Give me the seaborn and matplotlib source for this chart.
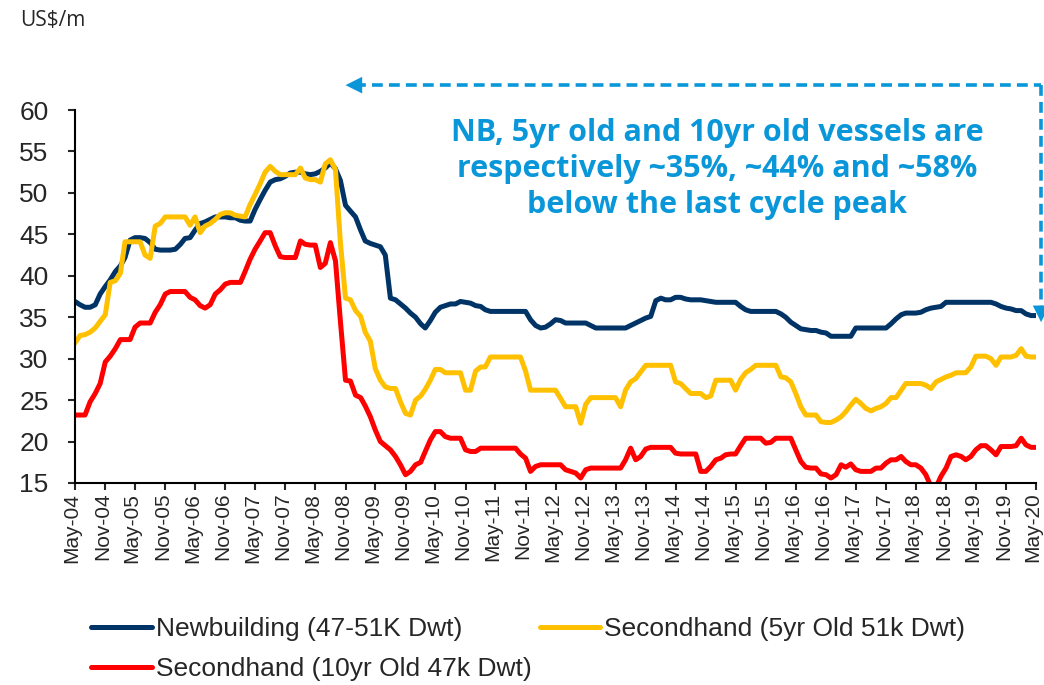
import numpy as np
import pandas as pd
import seaborn as sns
import matplotlib.pyplot as plt
import matplotlib.dates as mdates
from matplotlib.transforms import ScaledTranslation

# Monthly vessel prices (US$m), May-04 to May-20
dates = pd.date_range('2004-05-01', periods=193, freq='MS')

newbuilding = [
    36.9, 36.5, 36.2, 36.2, 36.5, 37.8, 38.7, 39.5, 40.5, 41.2, 42.2, 44.3,
    44.6, 44.6, 44.5, 44.0, 43.2, 43.1, 43.1, 43.1, 43.2, 43.8, 44.5, 44.6,
    45.5, 46.3, 46.5, 46.8, 47.1, 47.1, 47.1, 47.0, 47.0, 46.7, 46.6, 46.6,
    48.0, 49.2, 50.3, 51.3, 51.6, 51.7, 52.0, 52.4, 52.5, 52.5, 52.3, 52.2,
    52.3, 52.6, 53.0, 53.6, 52.9, 51.5, 48.5, 47.8, 47.1, 45.5, 44.2, 43.9,
    43.7, 43.5, 42.5, 37.3, 37.1, 36.6, 36.1, 35.5, 35.0, 34.2, 33.7, 34.6,
    35.6, 36.2, 36.4, 36.6, 36.6, 36.9, 36.8, 36.7, 36.4, 36.3, 35.9, 35.7,
    35.7, 35.7, 35.7, 35.7, 35.7, 35.7, 35.7, 34.7, 34.0, 33.7, 33.8, 34.2,
    34.7, 34.6, 34.3, 34.3, 34.3, 34.3, 34.3, 34.0, 33.7, 33.7, 33.7, 33.7,
    33.7, 33.7, 33.7, 34.0, 34.3, 34.6, 34.9, 35.1, 37.0, 37.3, 37.1, 37.1,
    37.4, 37.4, 37.2, 37.1, 37.1, 37.1, 37.0, 36.9, 36.8, 36.8, 36.8, 36.8,
    36.8, 36.3, 35.9, 35.7, 35.7, 35.7, 35.7, 35.7, 35.7, 35.4, 35.0, 34.4,
    34.0, 33.6, 33.5, 33.4, 33.4, 33.2, 33.1, 32.7, 32.7, 32.7, 32.7, 32.7,
    33.7, 33.7, 33.7, 33.7, 33.7, 33.7, 33.7, 34.2, 34.8, 35.3, 35.5, 35.5,
    35.5, 35.6, 35.9, 36.1, 36.2, 36.3, 36.8, 36.8, 36.8, 36.8, 36.8, 36.8,
    36.8, 36.8, 36.8, 36.8, 36.6, 36.3, 36.1, 36.0, 35.8, 35.8, 35.4, 35.2, 35.2,
]

secondhand_5yr = [
    31.9, 32.8, 32.9, 33.2, 33.7, 34.5, 35.3, 39.2, 39.4, 40.3, 44.1, 44.1,
    44.1, 44.1, 42.5, 42.1, 46.0, 46.3, 47.1, 47.1, 47.1, 47.1, 47.1, 46.1,
    47.1, 45.2, 46.0, 46.3, 46.8, 47.4, 47.6, 47.6, 47.3, 47.2, 47.1, 48.6,
    49.8, 51.1, 52.5, 53.2, 52.6, 52.2, 52.2, 52.2, 52.2, 53.0, 51.8, 51.6,
    51.6, 51.3, 53.5, 54.0, 52.8, 44.0, 37.3, 37.1, 35.8, 35.1, 33.2, 32.1,
    28.8, 27.4, 26.6, 26.4, 26.4, 24.8, 23.4, 23.2, 25.0, 25.5, 26.3, 27.4,
    28.7, 28.7, 28.3, 28.3, 28.3, 28.3, 26.2, 26.2, 28.5, 29.0, 29.0, 30.2,
    30.2, 30.2, 30.2, 30.2, 30.2, 30.2, 28.5, 26.2, 26.2, 26.2, 26.2, 26.2,
    26.2, 25.2, 24.2, 24.2, 24.2, 22.2, 24.5, 25.3, 25.3, 25.3, 25.3, 25.3,
    25.3, 24.2, 26.2, 27.2, 27.6, 28.4, 29.2, 29.2, 29.2, 29.2, 29.2, 29.2,
    27.2, 27.0, 26.4, 25.8, 25.8, 25.8, 25.3, 25.5, 27.4, 27.4, 27.4, 27.4,
    26.2, 27.5, 28.3, 28.7, 29.2, 29.2, 29.2, 29.2, 29.2, 27.8, 27.7, 27.2,
    25.8, 24.2, 23.2, 23.2, 23.2, 22.4, 22.3, 22.3, 22.6, 23.0, 23.6, 24.4,
    25.1, 24.6, 24.0, 23.7, 24.0, 24.2, 24.6, 25.3, 25.3, 26.2, 27.0, 27.0,
    27.0, 27.0, 26.8, 26.4, 27.2, 27.5, 27.8, 28.0, 28.3, 28.3, 28.3, 29.0,
    30.3, 30.3, 30.3, 30.0, 29.2, 30.2, 30.2, 30.2, 30.4, 31.2, 30.3, 30.2, 30.2,
]

secondhand_10yr = [
    23.2, 23.2, 23.2, 24.8, 25.8, 27.0, 29.6, 30.3, 31.2, 32.3, 32.3, 32.3,
    33.8, 34.3, 34.3, 34.3, 35.6, 36.5, 37.8, 38.1, 38.1, 38.1, 38.1, 37.4,
    37.1, 36.4, 36.1, 36.5, 37.8, 38.3, 39.0, 39.2, 39.2, 39.2, 40.5, 42.0,
    43.2, 44.2, 45.2, 45.2, 43.6, 42.3, 42.2, 42.2, 42.2, 44.2, 43.8, 43.7,
    43.7, 41.0, 41.5, 44.0, 41.8, 34.5, 27.4, 27.3, 25.6, 25.3, 24.3, 23.0,
    21.4, 20.0, 19.5, 19.0, 18.2, 17.2, 16.0, 16.4, 17.2, 17.5, 18.8, 20.2,
    21.2, 21.2, 20.6, 20.4, 20.4, 20.4, 19.0, 18.8, 18.8, 19.2, 19.2, 19.2,
    19.2, 19.2, 19.2, 19.2, 19.2, 18.5, 18.0, 16.4, 17.0, 17.2, 17.2, 17.2,
    17.2, 17.2, 16.6, 16.4, 16.2, 15.6, 16.6, 16.8, 16.8, 16.8, 16.8, 16.8,
    16.8, 16.8, 17.8, 19.2, 17.8, 18.2, 19.1, 19.3, 19.3, 19.3, 19.3, 19.3,
    18.6, 18.5, 18.5, 18.5, 18.5, 16.4, 16.4, 17.0, 17.8, 18.0, 18.4, 18.5,
    18.5, 19.5, 20.4, 20.4, 20.4, 20.4, 19.8, 19.9, 20.4, 20.4, 20.4, 20.4,
    19.0, 17.6, 16.9, 16.8, 16.8, 16.1, 16.0, 15.6, 16.0, 17.2, 16.9, 17.3,
    16.6, 16.4, 16.4, 16.4, 16.8, 16.8, 17.4, 17.8, 17.8, 18.2, 17.6, 17.2,
    17.2, 16.8, 16.0, 14.6, 14.5, 15.8, 16.8, 18.2, 18.4, 18.2, 17.8, 18.2,
    19.0, 19.5, 19.5, 19.0, 18.4, 19.4, 19.4, 19.4, 19.5, 20.4, 19.6, 19.3, 19.3,
]

labels = ['Newbuilding (47-51K Dwt)', 'Secondhand (5yr Old 51k Dwt)',
          'Secondhand (10yr Old 47k Dwt)']
colors = ['#003366', '#FFC000', '#FF0000']
note = ('NB, 5yr old and 10yr old vessels are\n'
        'respectively ~35%, ~44% and ~58%\n'
        'below the last cycle peak')
blue = '#0A97D9'

df = pd.DataFrame({
    'date': np.tile(dates, 3),
    'value': newbuilding + secondhand_5yr + secondhand_10yr,
    'series': np.repeat(labels, len(dates)),
})

sns.set_style('white')
plt.rcParams['font.family'] = ['Liberation Sans', 'DejaVu Sans']

fig = plt.figure(figsize=(10.44, 6.85), dpi=100)
ax = fig.add_axes([75 / 1044, 1 - 483 / 685, 961 / 1044, 373 / 685])

sns.lineplot(data=df, x='date', y='value', hue='series', hue_order=labels,
             palette=colors, linewidth=3.6, errorbar=None, legend=False, ax=ax)
for line in ax.lines:
    line.set_solid_joinstyle('round')

ax.set_xlim(dates[0], dates[-1])
ax.set_ylim(15, 60)
ax.set_yticks(range(15, 61, 5))
ax.set_xticks(dates[::6])
ax.xaxis.set_major_formatter(mdates.DateFormatter('%b-%y'))
ax.set_xlabel('')
ax.set_ylabel('')
for s in ['top', 'right']:
    ax.spines[s].set_visible(False)
for s in ['left', 'bottom']:
    ax.spines[s].set_color('black')
    ax.spines[s].set_linewidth(1.5)
ax.tick_params(axis='y', labelsize=19, length=5, width=1.5, pad=14, left=True)
ax.tick_params(axis='x', labelsize=15, length=5, width=1.5, pad=2,
               rotation=90, bottom=True)
# nudge the rotated date labels a touch left so the last one stays inside
shift = ScaledTranslation(-2 / 72, 0, fig.dpi_scale_trans)
for lbl in ax.get_xticklabels():
    lbl.set_transform(lbl.get_transform() + shift)

# legend below the chart, row order: NB, 5yr / 10yr
handles = ax.lines[:3]
order = [0, 2, 1]
fig.legend([handles[i] for i in order], [labels[i] for i in order],
           loc='upper left', bbox_to_anchor=(78 / 1044, 1 - 604 / 685),
           ncol=2, frameon=False, fontsize=19, handlelength=2.3,
           handletextpad=0.15, columnspacing=0.3, labelspacing=0.6,
           borderpad=0)

fig.text(20 / 1044, 1 - 20 / 685, 'US$/m', fontsize=15, family='Open Sans',
         va='center', ha='left')

fig.text(717 / 1044, 1 - 169 / 685, note, fontsize=22, family='Open Sans',
         fontweight='bold', color=blue, ha='center', va='center',
         linespacing=1.25)

# dashed arrow from the 2008 peak to the latest reading
x_peak = mdates.date2num(dates[54])
x_end = mdates.date2num(dates[-1]) + 31
y_top = 63.0
y_tip = 34.4
dash = dict(color=blue, lw=2.6, ls=(0, (3, 1.7)), clip_on=False)
ax.plot([x_peak + 60, x_end], [y_top, y_top], **dash)
ax.plot([x_end, x_end], [y_top, y_tip + 1.2], **dash)
head = dict(arrowstyle='-|>,head_length=0.6,head_width=0.3', color=blue,
            lw=0, mutation_scale=20, shrinkA=0, shrinkB=0)
ax.annotate('', xy=(x_peak, y_top), xytext=(x_peak + 80, y_top),
            arrowprops=head, annotation_clip=False)
ax.annotate('', xy=(x_end, y_tip), xytext=(x_end, y_tip + 2.0),
            arrowprops=head, annotation_clip=False)

fig.savefig('out.png', dpi=100)
